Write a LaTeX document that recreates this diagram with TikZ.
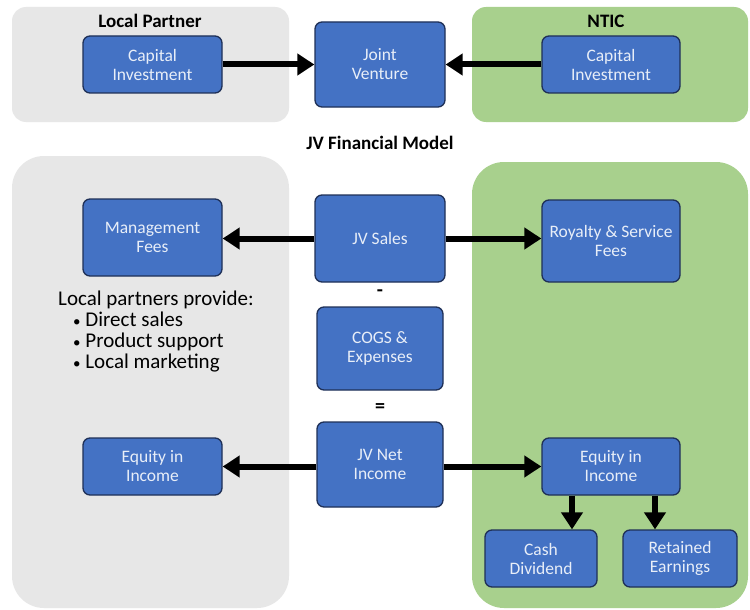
\documentclass[tikz,border=0pt]{standalone}
\usepackage{fontspec}
\setmainfont{Carlito}
\usetikzlibrary{arrows.meta}
\definecolor{boxblue}{HTML}{4472C4}
\definecolor{boxedge}{HTML}{1F3057}
\definecolor{panelgray}{HTML}{E7E7E7}
\definecolor{panelgreen}{HTML}{A8D08D}
\definecolor{boxtext}{HTML}{E8EEF8}
\tikzset{
  bluebox/.style={draw=boxedge, line width=1.3pt, fill=boxblue, rounded corners=7pt,
    text=boxtext, align=center, font=\fontsize{17.5}{19}\selectfont, inner sep=2pt},
  grayp/.style={fill=panelgray, draw=none},
  greenp/.style={fill=panelgreen, draw=none},
  arr/.style={line width=6pt, -{Triangle[length=17pt,width=21pt]}},
  title/.style={font=\fontsize{19}{21}\selectfont\bfseries}
}
\newcommand{\smallbul}{{\fontsize{15}{15}\selectfont\textbullet}}
\begin{document}
\begin{tikzpicture}[x=1pt,y=-1pt]
\useasboundingbox (0,0) rectangle (750,610);
\fill[white] (0,0) rectangle (750,610);
% panels
\fill[grayp, rounded corners=14pt] (12,7) rectangle (289,122);
\fill[greenp, rounded corners=14pt] (472,7) rectangle (748,122);
\fill[grayp, rounded corners=32pt] (12,156) rectangle (289,608);
\fill[greenp, rounded corners=32pt] (472,162) rectangle (748,608);
% titles
\node[title] (tLP) at (150,21) {Local Partner};
\node[title] (tNT) at (606,21) {NTIC};
\node[title] (tJV) at (380,143) {JV Financial Model};
% top boxes
\node[bluebox, minimum width=139pt, minimum height=57pt] (capL) at (152.5,64.5) {Capital\\Investment};
\node[bluebox, minimum width=130pt, minimum height=85pt] (jv) at (380,64.5) {Joint\\Venture};
\node[bluebox, minimum width=138pt, minimum height=57pt] (capR) at (611,64.5) {Capital\\Investment};
\draw[arr] (capL) -- (jv);
\draw[arr] (capR) -- (jv);
% financial model
\node[bluebox, minimum width=139pt, minimum height=77pt] (mgmt) at (152.5,237.5) {Management\\Fees};
\node[bluebox, minimum width=130pt, minimum height=87pt] (sales) at (380,238.5) {JV Sales};
\node[bluebox, minimum width=138pt, minimum height=82pt] (roy) at (611,241) {Royalty \& Service\\Fees};
\node[font=\fontsize{20}{22}\selectfont\bfseries] (minus) at (380,293) {-};
\node[bluebox, minimum width=126pt, minimum height=83pt] (cogs) at (380,348.5) {COGS \&\\Expenses};
\node[font=\fontsize{20}{22}\selectfont\bfseries] (eq) at (380,408) {=};
\node[bluebox, minimum width=126pt, minimum height=85pt] (net) at (380,464.5) {JV Net\\Income};
\node[bluebox, minimum width=139pt, minimum height=57pt] (eqL) at (152.5,466.5) {Equity in\\Income};
\node[bluebox, minimum width=138pt, minimum height=57pt] (eqR) at (611,466.5) {Equity in\\Income};
\node[bluebox, minimum width=112pt, minimum height=57pt] (cash) at (541,558.5) {Cash\\Dividend};
\node[bluebox, minimum width=114pt, minimum height=57pt] (ret) at (680,558.5) {Retained\\Earnings};
\node[anchor=north west, align=left, font=\fontsize{21}{21}\selectfont, inner sep=0pt] (lp) at (58,291)
  {Local partners provide:\\
   \hspace*{15pt}\smallbul\ Direct sales\\
   \hspace*{15pt}\smallbul\ Product support\\
   \hspace*{15pt}\smallbul\ Local marketing};
\draw[arr] (sales.west) -- (sales.west -| mgmt.east);
\draw[arr] (sales.east) -- (sales.east -| roy.west);
\draw[arr] (net.west |- eqL) -- (eqL);
\draw[arr] (net.east |- eqR) -- (eqR);
\coordinate (d1) at (572,0);
\coordinate (d2) at (655,0);
\draw[arr] (eqR.south -| d1) -- (cash.north -| d1);
\draw[arr] (eqR.south -| d2) -- (ret.north -| d2);
\end{tikzpicture}
\end{document}
